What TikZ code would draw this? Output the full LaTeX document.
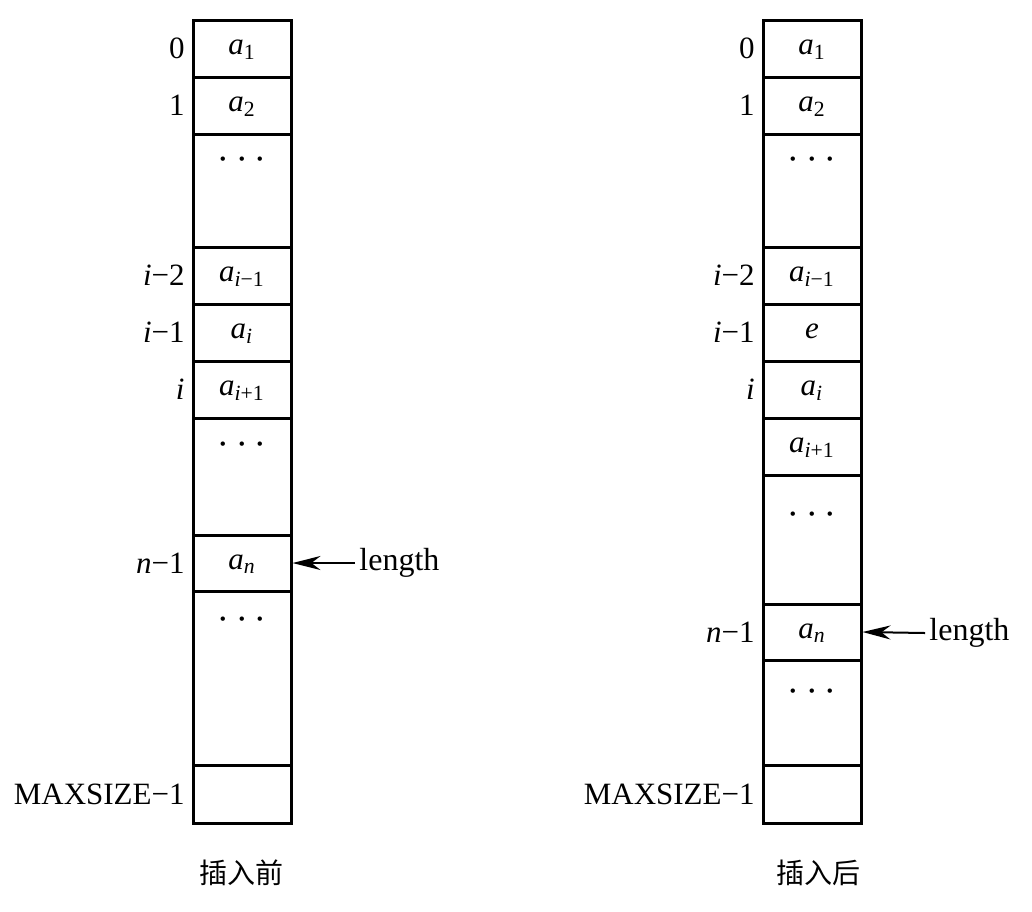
\documentclass[tikz,border=0pt]{standalone}
\usepackage{fontspec}
\setmainfont{Liberation Serif}
\newfontfamily\cjk{Noto Sans CJK SC}
\usetikzlibrary{arrows.meta,positioning}
\newcommand{\elem}[1]{\textit{a}\textsubscript{#1}}
\tikzset{
  cell/.style={draw,line width=1.5pt,minimum width=49pt,inner sep=0pt,
               text height=0.78em,text depth=0.14em,
               font=\fontsize{15.5}{18}\selectfont},
  idx/.style={anchor=east,inner sep=0pt,font=\fontsize{15.5}{18}\selectfont},
  gap/.style={inner sep=0pt,font=\fontsize{20}{22}\selectfont},
  ptr/.style={anchor=west,inner sep=2pt,font=\fontsize{16}{18}\selectfont},
  arr/.style={-{Stealth[length=14pt,width=7pt]},line width=1pt},
  caption/.style={font=\cjk\fontsize{14}{16}\selectfont},
}
\begin{document}
\begin{tikzpicture}[x=0.5pt,y=-0.5pt]
  \useasboundingbox (0,0) rectangle (1032,911);

  %% -- Before insertion ------------------------------------------------------
  \node[cell,minimum height=28.5pt] (L0) at (242,48.5)  {\elem{1}};
  \node[cell,minimum height=28.5pt] (L1) at (242,105.5) {\elem{2}};
  \node[cell,minimum height=56.5pt] (L2) at (242,190.5) {};
  \node[cell,minimum height=28.5pt] (L3) at (242,275.5) {\elem{\textit{i}−1}};
  \node[cell,minimum height=28.5pt] (L4) at (242,332.5) {\elem{\textit{i}}};
  \node[cell,minimum height=28.5pt] (L5) at (242,389.5) {\elem{\textit{i}+1}};
  \node[cell,minimum height=58.5pt] (L6) at (242,476.5) {};
  \node[cell,minimum height=28pt]   (L7) at (242,563)   {\elem{\textit{n}}};
  \node[cell,minimum height=87pt]   (L8) at (242,678)   {};
  \node[cell,minimum height=29pt]   (L9) at (242,794)   {};

  \node[gap] (gapL2) at (242,160) {$\cdots$};
  \node[gap] (gapL6) at (242,445) {$\cdots$};
  \node[gap] (gapL8) at (242,620) {$\cdots$};

  \node[idx] (iL0) at (185,48.5)  {0};
  \node[idx] (iL1) at (185,105.5) {1};
  \node[idx] (iL3) at (185,275.5) {\textit{i}−2};
  \node[idx] (iL4) at (185,332.5) {\textit{i}−1};
  \node[idx] (iL5) at (185,389.5) {\textit{i}};
  \node[idx] (iL7) at (185,563)   {\textit{n}−1};
  \node[idx] (iL9) at (185,794)   {MAXSIZE−1};

  \node[ptr] (lenL) at (355,563) {length};
  \draw[arr] (lenL.west) -- (L7.east);

  \node[caption] (capL) at (241,873) {插入前};

  %% -- After insertion -------------------------------------------------------
  \node[cell,minimum height=28.5pt] (R0)  at (812,48.5)  {\elem{1}};
  \node[cell,minimum height=28.5pt] (R1)  at (812,105.5) {\elem{2}};
  \node[cell,minimum height=56.5pt] (R2)  at (812,190.5) {};
  \node[cell,minimum height=28.5pt] (R3)  at (812,275.5) {\elem{\textit{i}−1}};
  \node[cell,minimum height=28.5pt] (R4)  at (812,332.5) {\textit{e}};
  \node[cell,minimum height=28.5pt] (R5)  at (812,389.5) {\elem{\textit{i}}};
  \node[cell,minimum height=28.5pt] (R6)  at (812,446.5) {\elem{\textit{i}+1}};
  \node[cell,minimum height=64.5pt] (R7)  at (812,539.5) {};
  \node[cell,minimum height=28pt]   (R8)  at (812,632)   {\elem{\textit{n}}};
  \node[cell,minimum height=52.5pt] (R9)  at (812,712.5) {};
  \node[cell,minimum height=29pt]   (R10) at (812,794)   {};

  \node[gap] (gapR2) at (812,160) {$\cdots$};
  \node[gap] (gapR7) at (812,515) {$\cdots$};
  \node[gap] (gapR9) at (812,692) {$\cdots$};

  \node[idx] (iR0)  at (755,48.5)  {0};
  \node[idx] (iR1)  at (755,105.5) {1};
  \node[idx] (iR3)  at (755,275.5) {\textit{i}−2};
  \node[idx] (iR4)  at (755,332.5) {\textit{i}−1};
  \node[idx] (iR5)  at (755,389.5) {\textit{i}};
  \node[idx] (iR8)  at (755,632)   {\textit{n}−1};
  \node[idx] (iR10) at (755,794)   {MAXSIZE−1};

  \node[ptr] (lenR) at (925,633) {length};
  \draw[arr] (lenR.west) -- (R8.east);

  \node[caption] (capR) at (818,873) {插入后};
\end{tikzpicture}
\end{document}
